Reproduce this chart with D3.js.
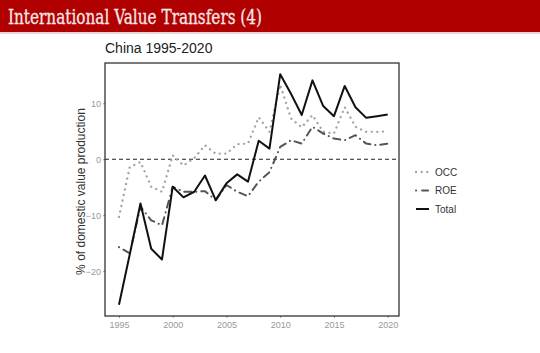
<!DOCTYPE html>
<html>
<head>
<meta charset="utf-8">
<script src="https://cdn.jsdelivr.net/npm/d3@7"></script>
<style>
  body { margin: 0; background: #fff; }
  svg { display: block; }
</style>
</head>
<body>
<div id="chart"></div>
<script>
// values
var years = [1995, 1996, 1997, 1998, 1999, 2000, 2001, 2002, 2003, 2004, 2005, 2006, 2007,
             2008, 2009, 2010, 2011, 2012, 2013, 2014, 2015, 2016, 2017, 2018, 2019, 2020];
var occ = [-10.3, -1.4, -0.5, -4.9, -5.8, 0.7, -1.1, 0.2, 2.5, 1.0, 1.0, 2.7, 2.8,
           7.5, 4.9, 13.3, 7.3, 5.7, 7.9, 4.9, 4.6, 9.3, 5.8, 4.9, 4.9, 5.0];
var roe = [-15.7, -16.8, -8.5, -10.9, -11.8, -4.9, -5.8, -5.8, -5.7, -7.3, -4.6, -5.8, -6.6,
           -4.0, -2.3, 2.2, 3.4, 2.8, 5.8, 4.6, 3.7, 3.4, 4.3, 2.8, 2.5, 2.8];
var total = [-26.0, -17.0, -7.9, -16.0, -17.9, -4.9, -6.8, -5.8, -2.9, -7.3, -4.3, -2.7, -4.0,
             3.3, 1.9, 15.2, 11.7, 7.9, 14.1, 9.5, 7.7, 13.1, 9.3, 7.4, 7.7, 8.0];
var xTicks = [1995, 2000, 2005, 2010, 2015, 2020];
var yTicks = [-20, -10, 0, 10];

var series = [
  {name: "OCC", values: occ, color: "#a3a3a3", width: 2.3, dash: "0.1,5.5", cap: "round"},
  {name: "ROE", values: roe, color: "#555555", width: 2, dash: "0.1,5,7,5", cap: "round"},
  {name: "Total", values: total, color: "#111111", width: 2, dash: null, cap: "butt"}
];

var W = 540, H = 353;
var panel = {left: 105, right: 399, top: 63, bottom: 316};

var svg = d3.select("#chart").append("svg")
  .attr("width", W).attr("height", H);

// slide header band
svg.append("rect").attr("x", 0).attr("y", 0).attr("width", W).attr("height", 32)
  .attr("fill", "#b00000");
svg.append("rect").attr("x", 0).attr("y", 32).attr("width", W).attr("height", 2)
  .attr("fill", "#e6d6d6");
svg.append("text")
  .attr("x", 8).attr("y", 24)
  .attr("font-family", "DejaVu Serif")
  .attr("font-size", "20px")
  .attr("fill", "#f6e8e8")
  .attr("stroke", "#f6e8e8").attr("stroke-width", 0.3)
  .attr("textLength", 254).attr("lengthAdjust", "spacingAndGlyphs")
  .text("International Value Transfers (4)");

// chart subtitle
svg.append("text")
  .attr("x", 105).attr("y", 53)
  .attr("font-family", "Liberation Sans, Arial, sans-serif")
  .attr("font-size", "14px")
  .attr("fill", "#222")
  .text("China 1995-2020");

var x = d3.scaleLinear().domain([1993.7, 2021.05]).range([panel.left, panel.right]);
var y = d3.scaleLinear().domain([-28, 17.2]).range([panel.bottom, panel.top]);

// x axis
var gx = svg.append("g")
  .attr("transform", "translate(0," + panel.bottom + ")")
  .call(d3.axisBottom(x).tickValues(xTicks).tickFormat(d3.format("d")).tickSize(2).tickPadding(4));
// y axis
var gy = svg.append("g")
  .attr("transform", "translate(" + panel.left + ",0)")
  .call(d3.axisLeft(y).tickValues(yTicks).tickSize(2).tickPadding(2));

[gx, gy].forEach(function(g) {
  g.select(".domain").remove();
  g.selectAll("line").attr("stroke", "#999");
  g.selectAll("text")
    .attr("font-family", "Liberation Sans, Arial, sans-serif")
    .attr("font-size", "9px")
    .attr("fill", "#999");
});

// panel box
svg.append("rect")
  .attr("x", panel.left).attr("y", panel.top)
  .attr("width", panel.right - panel.left).attr("height", panel.bottom - panel.top)
  .attr("fill", "none").attr("stroke", "#222").attr("stroke-width", 1.2);

// y axis title
svg.append("text")
  .attr("transform", "translate(85," + ((panel.top + panel.bottom) / 2 + 2) + ") rotate(-90)")
  .attr("text-anchor", "middle")
  .attr("font-family", "Liberation Sans, Arial, sans-serif")
  .attr("font-size", "12px")
  .attr("fill", "#333")
  .text("% of domestic value production");

// zero line
svg.append("line")
  .attr("x1", panel.left).attr("x2", panel.right)
  .attr("y1", y(0)).attr("y2", y(0))
  .attr("stroke", "#222").attr("stroke-width", 1.2)
  .attr("stroke-dasharray", "4,3");

var line = d3.line()
  .x(function(d, i) { return x(years[i]); })
  .y(function(d) { return y(d); });

series.forEach(function(s) {
  svg.append("path")
    .datum(s.values)
    .attr("d", line)
    .attr("fill", "none")
    .attr("stroke", s.color)
    .attr("stroke-width", s.width)
    .attr("stroke-linecap", s.cap)
    .attr("stroke-linejoin", "round")
    .attr("stroke-dasharray", s.dash);
});

// legend
var legend = svg.append("g").attr("transform", "translate(416,172)");
series.forEach(function(s, i) {
  var g = legend.append("g").attr("transform", "translate(0," + (i * 18.5) + ")");
  g.append("line")
    .attr("x1", 0).attr("x2", 13).attr("y1", 0).attr("y2", 0)
    .attr("stroke", s.color).attr("stroke-width", s.width)
    .attr("stroke-linecap", s.cap)
    .attr("stroke-dasharray", s.name === "ROE" ? "0.1,6,6,4" : s.dash);
  g.append("text")
    .attr("x", 19).attr("y", 3.5)
    .attr("font-family", "Liberation Sans, Arial, sans-serif")
    .attr("font-size", "10px")
    .attr("fill", "#333")
    .text(s.name);
});
</script>
</body>
</html>
